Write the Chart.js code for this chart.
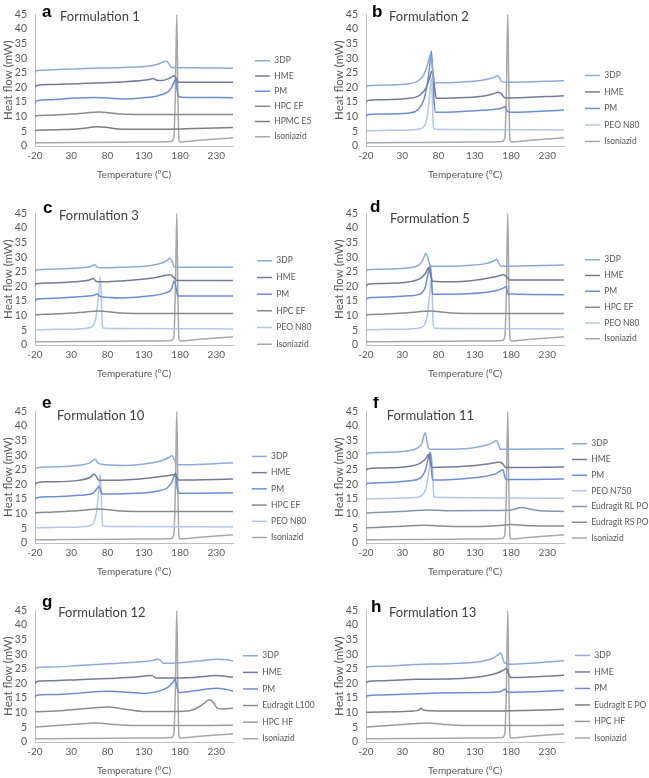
<!DOCTYPE html>
<html><head><meta charset="utf-8">
<script src="https://cdn.jsdelivr.net/npm/chart.js@4.4.0/dist/chart.umd.min.js"></script>
<style>
html,body{margin:0;padding:0;background:#fff;overflow:hidden;}
#wrap{position:relative;width:649px;height:778px;background:#fff;}
#wrap canvas{position:absolute;}
</style></head><body><div id="wrap"></div>
<script>
// ---- axis ticks ----
const xTicks = [-20, 30, 80, 130, 180, 230];
const yTicks = [0, 5, 10, 15, 20, 25, 30, 35, 40, 45];

// ---- shared reference materials [temperature °C, heat flow mW] ----
const isoniazid = [[-20,0.9],[-18,1.1],[0,1.1],[50,1.2],[100,1.3],[150,1.4],[168,1.5],[171.5,3],[173.5,18],[175.5,45],[177,18],[178.5,2],[181,1.4],[200,1.8],[230,2.4],[253,2.8]];
const hpcEF = [[-20,10.1],[-18,10.3],[0,10.5],[30,10.9],[50,11.3],[68,11.6],[85,11.3],[100,10.9],[120,10.8],[253,10.8]];
const peoN80 = [[-20,5.2],[0,5.3],[40,5.5],[55,5.9],[61,7],[65,11],[68,18],[70,23.5],[71.5,16],[72.5,8],[74,5.8],[100,5.6],[253,5.5]];
const hpcHF = [[-20,5.1],[0,5.5],[30,6],[50,6.3],[65,6.5],[85,6.1],[105,5.7],[150,5.6],[253,5.7]];

// ---- a: Formulation 1 ----
const a3DP = [[-20,24.8],[-18.5,25.7],[0,26],[50,26.5],[100,26.8],[140,27.4],[152,28.2],[158,28.8],[161.5,29],[165,28],[168,26.8],[190,26.7],[253,26.6]];
const aHME = [[-20,19.8],[-18.5,20.6],[0,21],[50,21.4],[100,21.9],[135,22.6],[143,23.1],[148,22.5],[155,22.4],[165,23.1],[172,23.9],[175,23],[178,21.8],[200,21.8],[253,21.8]];
const aPM = [[-20,14.2],[-18.5,15.4],[0,15.8],[30,16.3],[60,16.6],[80,16.4],[100,16.1],[130,16.5],[150,17.2],[162,18.3],[168,19.8],[172,22],[174,23.1],[176,19],[178,16.8],[190,16.6],[253,16.5]];
const aHPMC = [[-20,5.2],[-18,5.4],[20,5.6],[45,6],[65,6.6],[80,6.3],[95,5.8],[120,5.7],[180,5.8],[253,6.3]];

// ---- b: Formulation 2 ----
const b3DP = [[-20,19.6],[-18.5,20.6],[0,20.8],[40,21.3],[52,22.3],[60,24.5],[65,28],[68.5,31],[70.5,29],[73,23],[75,21.6],[100,21.7],[140,22.5],[155,23.3],[161,24],[164,23.4],[167,22],[175,21.8],[253,22.3]];
const bHME = [[-20,14.8],[-18.5,15.5],[0,15.8],[40,16.3],[55,17.5],[63,20],[68,23.5],[71,25.6],[73,24],[75,19],[77,16.3],[100,16.4],[140,17],[155,17.8],[163,18.4],[167,17.8],[171,16.5],[180,16.4],[253,17.2]];
const bPM = [[-20,10],[-18.5,10.7],[0,10.9],[40,11.3],[52,12.5],[60,16],[65,22],[68.5,29],[70,32.5],[72,26],[74,15],[76,11.5],[100,11.6],[140,12.2],[165,12.8],[172,13.4],[175,11.8],[180,11.5],[253,12.3]];

// ---- c: Formulation 3 ----
const c3DP = [[-20,24.6],[-18.5,25.6],[0,25.9],[40,26.3],[57,26.8],[62,27.4],[66,26.6],[70,26.4],[100,26.6],[140,27.2],[155,28],[162,28.9],[166,29.6],[169,28.5],[172,26.6],[253,26.6]];
const cHME = [[-20,20.2],[-18.5,20.9],[0,21.2],[40,21.7],[55,22.2],[60,22.7],[64,21.8],[70,21.6],[120,22.3],[145,23],[160,23.8],[166,24],[171,23.2],[176,22],[253,22]];
const cPM = [[-20,14.8],[-18.5,15.6],[0,15.9],[40,16.5],[60,16.9],[66,17.4],[70,16.6],[100,16.1],[140,16.8],[160,17.8],[168,19],[172,21.8],[175,19],[177,16.7],[253,16.7]];

// ---- d: Formulation 5 ----
const d3DP = [[-20,24.8],[-18.5,25.7],[0,25.9],[40,26.4],[52,27.2],[58,28.8],[62.5,31.3],[65,30],[68,27.2],[70,26.9],[120,27.2],[145,27.8],[155,28.6],[160,29.3],[163,28],[166,26.9],[253,27.3]];
const dHME = [[-20,19.8],[-18.5,20.7],[0,21],[40,21.6],[55,22.8],[62,24.5],[66,26.4],[69,24],[72,21.8],[100,21.6],[140,22.5],[160,23.4],[170,24],[175,23],[178,22.2],[253,22.2]];
const dPM = [[-20,15.2],[-18.5,16],[0,16.3],[40,16.8],[55,17.5],[62,20],[66,25],[68.5,27.5],[70,24],[71.5,18],[73,17.3],[120,17.5],[160,18.6],[170,19.5],[173.5,20],[175.5,17.5],[253,17.2]];

// ---- e: Formulation 10 ----
const e3DP = [[-20,24.8],[-18.5,25.6],[0,26],[40,26.6],[55,27.3],[63,28.6],[66,27.6],[70,27],[105,26.5],[140,27.3],[155,28.2],[165,29.3],[169,29.9],[172,28.5],[176,26.7],[253,27.4]];
const eHME = [[-20,19.6],[-18.5,20.5],[0,20.9],[40,21.4],[55,22.3],[62,23.5],[65,22.5],[68,21.4],[120,21.8],[150,22.6],[165,23.1],[173,23.4],[176,22.3],[178,21.5],[253,21.9]];
const ePM = [[-20,14.7],[-18.5,15.4],[0,15.8],[40,16.3],[60,17],[66,18.8],[68.5,19.3],[71,17.5],[73,16.7],[110,16.9],[150,17.8],[162,18.8],[168,20.5],[172,23],[174,24],[176,19],[178,17],[253,17.2]];

// ---- f: Formulation 11 ----
const f3DP = [[-20,29.9],[-18.5,30.6],[0,30.9],[40,31.6],[50,32.3],[57,34],[61.5,37.7],[64,35],[66,32.5],[68,32],[120,32.3],[145,33.4],[155,34.3],[160,35],[163,33.5],[165,32],[253,32.2]];
const fHME = [[-20,24.6],[-18.5,25.3],[0,25.6],[40,26.2],[55,27.3],[63,29],[66.5,30.3],[68.5,28],[70.5,25.8],[120,26.3],[150,27.1],[163,27.6],[168,27.2],[173,25.8],[253,26]];
const fPM = [[-20,19.6],[-18.5,20.3],[0,20.6],[40,21.3],[55,22.2],[62,25],[66,29],[68.5,31],[70,27],[71.5,21.5],[100,21.7],[140,22.6],[160,23.8],[169,25],[171,23],[173,21.7],[253,21.9]];
const fPEO750 = [[-20,15],[0,15.2],[50,15.6],[58,16.5],[63,19],[67,25],[70,30.5],[72,24],[73.5,16],[75,15.6],[253,15.3]];
const fRLPO = [[-20,10.2],[0,10.5],[40,10.9],[65,11.3],[90,11],[150,11.1],[180,11.3],[195,12.1],[210,11.4],[230,10.9],[253,10.8]];
const fRSPO = [[-20,5.2],[20,5.6],[60,6.1],[80,5.8],[120,5.6],[160,5.9],[180,6.3],[200,6],[253,5.8]];

// ---- g: Formulation 12 ----
const g3DP = [[-20,24.4],[-18.5,25.3],[0,25.6],[40,26.1],[80,26.7],[130,27.5],[145,28],[150,28.4],[154,27.6],[157,26.9],[180,27.1],[210,27.8],[230,28.3],[245,28.1],[253,27.7]];
const gHME = [[-20,19.8],[-18.5,20.6],[0,20.9],[40,21.3],[80,21.7],[120,22.2],[138,22.7],[142,22.6],[147,21.9],[180,21.9],[210,22.3],[228,22.7],[253,22.1]];
const gPM = [[-20,15],[-18.5,15.9],[0,16.2],[40,16.7],[80,17.3],[100,17.1],[130,16.6],[150,17.3],[163,18.7],[170,20.3],[173,21.4],[176,18.5],[178,16.9],[200,17.5],[230,18.4],[245,17.9],[253,17.4]];
const gL100 = [[-20,10.3],[20,10.8],[60,11.6],[80,12],[100,11.4],[125,10.5],[150,10.4],[185,10.5],[200,11.2],[212,13],[220,14.4],[225,13.8],[232,11.5],[240,11.3],[253,11.5]];

// ---- h: Formulation 13 ----
const h3DP = [[-20,24.8],[-18.5,25.7],[0,25.9],[50,26.5],[100,26.8],[140,27.6],[155,28.6],[162,29.8],[166,30.4],[168,29],[171,27],[180,26.6],[253,27.8]];
const hHME = [[-20,19.8],[-18.5,20.6],[0,20.9],[50,21.4],[100,21.6],[140,22.4],[160,23.5],[170,24.6],[173.5,25.2],[176,23.5],[180,22],[253,22.8]];
const hPM = [[-20,15],[-18.5,15.8],[0,16.1],[50,16.5],[80,16.7],[140,16.9],[165,17.2],[172,18],[175,17],[253,17.6]];
const hEPO = [[-20,10.2],[40,10.5],[52,10.8],[56,11.5],[59,10.9],[80,10.6],[150,10.6],[200,10.8],[253,11.2]];

// ---- colours ----
const col = {
  p3DP:'#8eaadb', HME:'#757b93', PM:'#6d8dd6', HPCEF:'#8a8a8a', HPMC:'#7f7f7f',
  PEO:'#b4c7e7', ISO:'#a8a8a8', RL:'#8797b3', RS:'#8c8c8c', L100:'#8c8c8c', HPCHF:'#9a9a9a', EPO:'#7f7f7f'
};

const panels = [
  {letter:'a', title:'Formulation 1', x:0, y:0, lx:42, ly:16.7, tx:60, ty:20.7, lp:6.7, lt:43.6, gap:15.3,
   series:[['3DP',a3DP,col.p3DP],['HME',aHME,col.HME],['PM',aPM,col.PM],['HPC EF',hpcEF,col.HPCEF],['HPMC E5',aHPMC,col.HPMC],['Isoniazid',isoniazid,col.ISO]]},
  {letter:'b', title:'Formulation 2', x:331, y:0, lx:41, ly:16.7, tx:58, ty:20.7, lp:8, lt:57, gap:13,
   series:[['3DP',b3DP,col.p3DP],['HME',bHME,col.HME],['PM',bPM,col.PM],['PEO N80',peoN80,col.PEO],['Isoniazid',isoniazid,col.ISO]]},
  {letter:'c', title:'Formulation 3', x:0, y:199, lx:43, ly:14.3, tx:59, ty:21, lp:8.2, lt:43.1, gap:15.8,
   series:[['3DP',c3DP,col.p3DP],['HME',cHME,col.HME],['PM',cPM,col.PM],['HPC EF',hpcEF,col.HPCEF],['PEO N80',peoN80,col.PEO],['Isoniazid',isoniazid,col.ISO]]},
  {letter:'d', title:'Formulation 5', x:331, y:199, lx:39, ly:12.7, tx:59, ty:24.3, lp:7.3, lt:43, gap:13.7,
   series:[['3DP',d3DP,col.p3DP],['HME',dHME,col.HME],['PM',dPM,col.PM],['HPC EF',hpcEF,col.HPCEF],['PEO N80',peoN80,col.PEO],['Isoniazid',isoniazid,col.ISO]]},
  {letter:'e', title:'Formulation 10', x:0, y:397, lx:42, ly:10.7, tx:57, ty:23, lp:7.7, lt:41.3, gap:11.1,
   series:[['3DP',e3DP,col.p3DP],['HME',eHME,col.HME],['PM',ePM,col.PM],['HPC EF',hpcEF,col.HPCEF],['PEO N80',peoN80,col.PEO],['Isoniazid',isoniazid,col.ISO]]},
  {letter:'f', title:'Formulation 11', x:331, y:397, lx:42, ly:10.7, tx:55.7, ty:23, lp:7.2, lt:29.1, gap:0.8,
   series:[['3DP',f3DP,col.p3DP],['HME',fHME,col.HME],['PM',fPM,col.PM],['PEO N750',fPEO750,col.PEO],['Eudragit RL PO',fRLPO,col.RL],['Eudragit RS PO',fRSPO,col.RS],['Isoniazid',isoniazid,col.ISO]]},
  {letter:'g', title:'Formulation 12', x:0, y:596, lx:42, ly:10.5, tx:58.3, ty:20.7, lp:8.1, lt:41.2, gap:1.9,
   series:[['3DP',g3DP,col.p3DP],['HME',gHME,col.HME],['PM',gPM,col.PM],['Eudragit L100',gL100,col.L100],['HPC HF',hpcHF,col.HPCHF],['Isoniazid',isoniazid,col.ISO]]},
  {letter:'h', title:'Formulation 13', x:331, y:596, lx:40, ly:15.7, tx:58, ty:20.7, lp:8, lt:41, gap:3,
   series:[['3DP',h3DP,col.p3DP],['HME',hHME,col.HME],['PM',hPM,col.PM],['Eudragit E PO',hEPO,col.EPO],['HPC HF',hpcHF,col.HPCHF],['Isoniazid',isoniazid,col.ISO]]}
];

Chart.defaults.font.family = 'Lato, "Liberation Sans", sans-serif';
Chart.defaults.color = '#595959';

const panelText = {
  id: 'panelText',
  beforeLayout(chart, args, o) {
    const lg = chart.legend;
    if (lg && !lg._fixedW) {
      const orig = lg.fit.bind(lg);
      lg.fit = function () { orig(); this.width = o.legendW; };
      lg._fixedW = true;
    }
  },
  afterDraw(chart, args, o) {
    const ctx = chart.ctx;
    ctx.save();
    ctx.textBaseline = 'alphabetic';
    ctx.textAlign = 'left';
    ctx.fillStyle = '#000';
    ctx.font = 'bold 17px "Liberation Sans", Arial, sans-serif';
    ctx.fillText(o.letter, o.lx, o.ly);
    ctx.fillStyle = '#404040';
    ctx.font = '13px Lato, sans-serif';
    ctx.fillText(o.title, o.tx, o.ty);
    ctx.restore();
  }
};

const legendLabels = chart =>
  Chart.defaults.plugins.legend.labels.generateLabels(chart).map(l => Object.assign(l, { lineWidth: 0 }));

const W = 318, H = 182, plotRight = 233;
const wrap = document.getElementById('wrap');
panels.forEach(p => {
  const cv = document.createElement('canvas');
  cv.width = W; cv.height = H;
  cv.style.left = p.x + 'px'; cv.style.top = p.y + 'px';
  cv.style.width = W + 'px'; cv.style.height = H + 'px';
  wrap.appendChild(cv);
  const legendW = W - plotRight - p.gap;
  new Chart(cv, {
    type: 'scatter',
    data: {
      datasets: p.series.map(s => ({
        label: s[0], data: s[1], borderColor: s[2], backgroundColor: s[2],
        showLine: true, pointRadius: 0, pointHoverRadius: 0, borderWidth: 1.5,
        cubicInterpolationMode: 'monotone', xAxisID: 'x', yAxisID: 'y'
      }))
    },
    options: {
      responsive: false, animation: false, devicePixelRatio: 1,
      layout: { padding: { top: 5, left: 0, bottom: 0, right: 0 } },
      plugins: {
        tooltip: { enabled: false },
        legend: {
          position: 'right', align: 'start',
          title: { display: true, text: ' ', font: { size: 1 }, padding: { top: p.lt, bottom: 0, left: 0, right: 0 } },
          labels: { boxWidth: 15, boxHeight: 1.5, padding: p.lp, color: '#595959', font: { size: 8.5 }, generateLabels: legendLabels }
        },
        panelText: { letter: p.letter, title: p.title, lx: p.lx, ly: p.ly, tx: p.tx, ty: p.ty, legendW: legendW }
      },
      scales: {
        x: {
          type: 'linear', position: 'bottom', min: -20, max: 253,
          afterBuildTicks: ax => { ax.ticks = xTicks.map(v => ({ value: v })); },
          afterFit: s => { s.height = 36; },
          grid: { display: false, drawTicks: false },
          border: { display: true, color: '#bfbfbf', width: 1 },
          ticks: { padding: 4, color: '#595959', font: { size: 10 }, maxRotation: 0, autoSkip: false },
          title: { display: true, text: 'Temperature (°C)', color: '#595959', font: { size: 10 }, padding: { top: 0, bottom: 1 } }
        },
        y: {
          type: 'linear', position: 'left', min: 0, max: 45,
          afterBuildTicks: ax => { ax.ticks = yTicks.map(v => ({ value: v })); },
          afterFit: s => { s.width = 35; },
          grid: { display: false, drawTicks: false },
          border: { display: true, color: '#bfbfbf', width: 1 },
          ticks: { padding: 8, color: '#595959', font: { size: 10.5 }, autoSkip: false },
          title: { display: true, text: 'Heat flow (mW)', color: '#595959', font: { size: 11.5 }, padding: { top: 1, bottom: 0 } }
        },
        gap: {
          type: 'linear', position: 'right', display: true,
          grid: { display: false, drawTicks: false }, border: { display: false },
          ticks: { display: false },
          afterFit: s => { s.width = p.gap; }
        }
      }
    },
    plugins: [panelText]
  });
});
</script>
</body></html>
